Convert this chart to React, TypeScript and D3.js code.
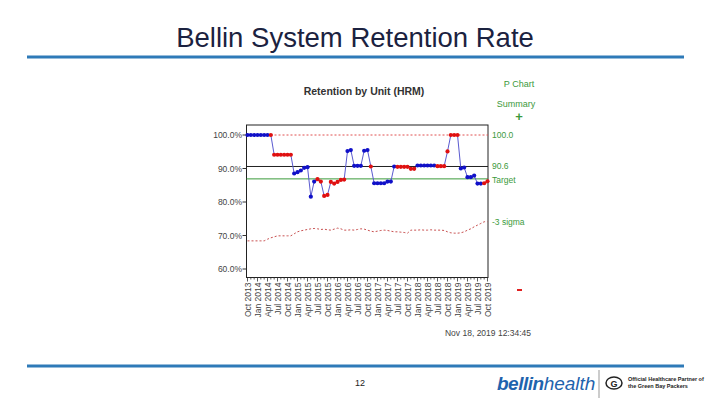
import React from "react";
import * as d3 from "d3";

const months = ["Oct", "Jan", "Apr", "Jul"];
const tickLabels: string[] = [];
for (let q = 0; q <= 24; q++) {
  const m = months[q % 4];
  const yr = 2013 + Math.floor((q + 3) / 4);
  tickLabels.push(`${m} ${yr}`);
}

const retention = [
  100, 100, 100, 100, 100, 100, 100, 100,
  94.1, 94.1, 94.1, 94.1, 94.1, 94.1,
  88.5, 88.9, 89.4, 90.2, 90.4,
  81.6, 86.1, 86.8, 86.1, 81.8, 82.1, 86.0, 85.5, 86.0, 86.6, 86.7,
  95.2, 95.5, 90.8, 90.8, 90.8, 95.3, 95.5, 90.6,
  85.6, 85.6, 85.6, 85.6, 86.1, 86.1, 90.6,
  90.5, 90.5, 90.5, 90.5, 89.9, 89.9,
  90.9, 90.9, 90.9, 90.9, 90.9, 90.9,
  90.7, 90.7, 90.7, 95.1, 100, 100, 100,
  90.0, 90.3, 87.4, 87.4, 87.9, 85.5, 85.5, 85.6, 86.2,
];
const flagged = [
  0, 0, 0, 0, 0, 0, 0, 1,
  1, 1, 1, 1, 1, 1,
  0, 0, 0, 0, 0,
  0, 0, 1, 1, 1, 1, 1, 1, 1, 1, 1,
  0, 0, 0, 0, 0, 0, 0, 1,
  0, 0, 0, 0, 0, 0, 0,
  1, 1, 1, 1, 1, 1,
  0, 0, 0, 0, 0, 0,
  1, 1, 1, 1, 1, 1, 1,
  0, 0, 0, 0, 0, 0, 0, 1, 1,
];
const lowerLimit = [
  68.4, 68.4, 68.4, 68.4, 68.4, 68.4, 68.9, 69.3, 69.6, 69.9, 69.9, 69.9, 69.9, 69.9,
  70.5, 71.1, 71.4, 71.6, 71.8, 72.0, 72.1, 72.0, 71.8, 71.9, 71.7, 71.6, 71.9, 72.2,
  72.0, 71.6, 71.6, 71.7, 71.6, 71.8, 72.0, 71.9, 71.6, 71.3, 71.1, 71.3, 71.5, 71.6,
  71.5, 71.3, 71.1, 71.1, 71.0, 70.9, 70.7, 71.6, 71.6, 71.6, 71.7, 71.6, 71.6, 71.7,
  71.6, 71.6, 71.6, 71.5, 71.1, 70.8, 70.7, 70.7, 70.8, 71.1, 71.6, 72.0, 72.6, 73.1,
  73.6, 74.1, 74.1,
];
const upperLimit = 100;
const centerLine = 90.6;
const target = 86.9;
const yTicks = [100, 90, 80, 70, 60];

const GREEN = "#3c9a3c";
const FONT = "Arial, 'Liberation Sans', sans-serif";

export default function App() {
  const x = d3.scaleLinear().domain([0, 72]).range([247.5, 487.5]);
  const y = d3.scaleLinear().domain([60, 100]).range([269, 135]);
  const frame = { l: 246.5, r: 488, t: 125, b: 277.5 };
  const line = d3.line<number>().x((_, i) => x(i)).y((d) => y(d));

  return (
    <svg width={720} height={405} style={{ position: "absolute", left: 0, top: 0, background: "#fff" }} fontFamily={FONT}>
      <text x={355} y={47} textAnchor="middle" fontSize={27.5} fill="#1b2240">Bellin System Retention Rate</text>
      <rect x={27} y={55.5} width={657} height={3} fill="#2e7ab8" />

      <text x={364} y={95} textAnchor="middle" fontSize={10.5} fontWeight="bold" fill="#333">Retention by Unit (HRM)</text>

      {/* frame */}
      <rect x={frame.l} y={frame.t} width={frame.r - frame.l} height={frame.b - frame.t} fill="none" stroke="#222" strokeWidth={1} />

      {/* y ticks */}
      {yTicks.map((t) => (
        <g key={t}>
          <line x1={frame.l - 4} x2={frame.l} y1={y(t)} y2={y(t)} stroke="#333" />
          <text x={242} y={y(t) + 3} textAnchor="end" fontSize={8.5} fill="#444">{t.toFixed(1)}%</text>
        </g>
      ))}

      {/* x ticks */}
      {retention.map((_, i) => (
        <line key={i} x1={x(i)} x2={x(i)} y1={frame.b} y2={frame.b + (i % 3 === 0 ? 4 : 2)} stroke="#333" strokeWidth={0.8} />
      ))}
      {tickLabels.map((lab, q) => (
        <text key={lab} transform={`translate(${x(q * 3) + 3},${frame.b + 5}) rotate(-90)`} textAnchor="end" fontSize={8.5} fill="#444">{lab}</text>
      ))}

      {/* limit lines */}
      <line x1={frame.l} x2={frame.r} y1={y(upperLimit)} y2={y(upperLimit)} stroke="#e05050" strokeDasharray="2,2" strokeWidth={1} />
      <path d={line(lowerLimit) || ""} fill="none" stroke="#c85050" strokeDasharray="2,2" strokeWidth={1} />
      <line x1={frame.l} x2={frame.r} y1={y(centerLine)} y2={y(centerLine)} stroke="#222" strokeWidth={1} />
      <line x1={frame.l} x2={frame.r} y1={y(target)} y2={y(target)} stroke="#3a9a3a" strokeWidth={1} />

      {/* data */}
      <path d={line(retention) || ""} fill="none" stroke="#5a5ad0" strokeWidth={1} />
      {retention.map((v, i) => (
        <circle key={i} cx={x(i)} cy={y(v)} r={2.1} fill={flagged[i] ? "#e01010" : "#1010c8"} />
      ))}

      {/* right labels */}
      <text x={519} y={87} textAnchor="middle" fontSize={9} fill={GREEN}>P Chart</text>
      <text x={516} y={107} textAnchor="middle" fontSize={9} fill={GREEN}>Summary</text>
      <text x={519} y={121} textAnchor="middle" fontSize={13} fontWeight="bold" fill={GREEN}>+</text>
      <text x={492} y={y(upperLimit) + 3} fontSize={8.5} fill={GREEN}>100.0</text>
      <text x={492} y={y(centerLine) + 3} fontSize={8.5} fill={GREEN}>{centerLine.toFixed(1)}</text>
      <text x={492} y={183} fontSize={8.5} fill={GREEN}>Target</text>
      <text x={492} y={225} fontSize={8.5} fill={GREEN}>-3 sigma</text>
      <rect x={517} y={289} width={5} height={2} fill="#e02020" />

      <text x={531} y={336} textAnchor="end" fontSize={8.5} fill="#444">Nov 18, 2019 12:34:45</text>

      {/* footer */}
      <rect x={27} y={364.5} width={657} height={3} fill="#2e7ab8" />
      <text x={360} y={386} textAnchor="middle" fontSize={9} fill="#222">12</text>
      <text x={497} y={390} fontSize={19} fontStyle="italic" fill="#1f63ad">
        <tspan fontWeight="bold" letterSpacing={-0.5}>bellin</tspan>
        <tspan fontWeight="normal">health</tspan>
      </text>
      <line x1={599} x2={599} y1={370} y2={398} stroke="#999" strokeWidth={1} />
      <ellipse cx={614} cy={383} rx={8} ry={6} fill="#fff" stroke="#222" strokeWidth={1.5} />
      <text x={614} y={386.5} textAnchor="middle" fontSize={9} fontWeight="bold" fill="#222">G</text>
      <text x={628} y={381} fontSize={5.5} fontWeight="bold" fill="#222">Official Healthcare Partner of</text>
      <text x={628} y={388} fontSize={5.5} fontWeight="bold" fill="#222">the Green Bay Packers</text>
    </svg>
  );
}
